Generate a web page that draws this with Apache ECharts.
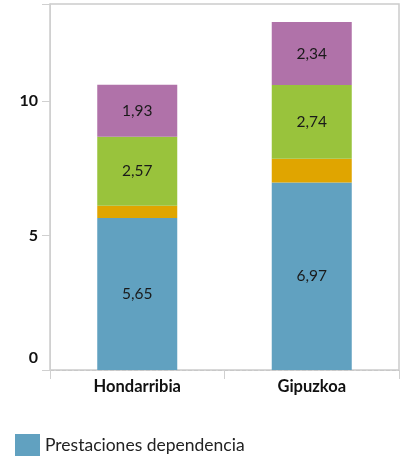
<!DOCTYPE html>
<html><head><meta charset="utf-8">
<script src="https://cdn.jsdelivr.net/npm/echarts@6/dist/echarts.min.js"></script>
<style>html,body{margin:0;padding:0;background:#fff}#c{width:408px;height:462px}</style>
</head><body><div id="c"></div>
<script>
const categories = ['Hondarribia', 'Gipuzkoa'];
const seriesNames = ['Prestaciones dependencia', 'Serie 2', 'Serie 3', 'Serie 4'];
const blueValues = [5.65, 6.97];
const orangeValues = [0.45, 0.88];
const greenValues = [2.57, 2.74];
const purpleValues = [1.93, 2.34];
const yTicks = [0, 5, 10];
const colors = ['#61a1c0', '#e0a500', '#99c33c', '#b072a9'];
const showLabel = [true, false, true, true];

const font = 'Lato, "Open Sans", sans-serif';
const chart = echarts.init(document.getElementById('c'));
const allValues = [blueValues, orangeValues, greenValues, purpleValues];
chart.setOption({
  animation: false,
  grid: { left: 50, right: 9, top: 4, bottom: 92, containLabel: false,
          show: true, borderColor: '#cccccc', borderWidth: 1.5, backgroundColor: 'transparent' },
  legend: {
    data: [{ name: seriesNames[0], icon: 'rect' }], left: 10, bottom: 1, itemWidth: 25, itemHeight: 22, itemGap: 10,
    textStyle: { fontFamily: font, fontSize: 17.5, color: '#222' }
  },
  xAxis: {
    type: 'category', data: categories,
    axisLine: { show: true, lineStyle: { color: '#c8c8c8', type: 'dashed' } },
    axisTick: { show: true, length: 9, lineStyle: { color: '#d0d0d0' } },
    axisLabel: { fontFamily: font, fontWeight: 'bold', fontSize: 16.5, color: '#111', margin: 8 }
  },
  yAxis: {
    type: 'value', min: 0, max: 13.6, interval: 5,
    axisLine: { show: true, lineStyle: { color: '#d0d0d0' } },
    axisTick: { show: true, length: 8, lineStyle: { color: '#d0d0d0' } },
    splitLine: { show: false },
    axisLabel: {
      fontFamily: font, fontWeight: 'bold', fontSize: 16, color: '#111', margin: 12,
      formatter: v => v === 0 ? '{z|0}' : (yTicks.includes(v) ? String(v) : ''),
      rich: { z: { fontFamily: font, fontWeight: 'bold', fontSize: 16, color: '#111', padding: [0, 0, 24, 0] } }
    }
  },
  series: allValues.map((vals, i) => ({
    name: seriesNames[i], type: 'bar', stack: 'total', data: vals, barWidth: 80,
    itemStyle: { color: colors[i] },
    label: {
      show: showLabel[i], position: 'inside', fontFamily: font, fontSize: 15.5, color: '#1a1a1a',
      formatter: p => p.value.toFixed(2).replace('.', ',')
    }
  }))
});
</script></body></html>
